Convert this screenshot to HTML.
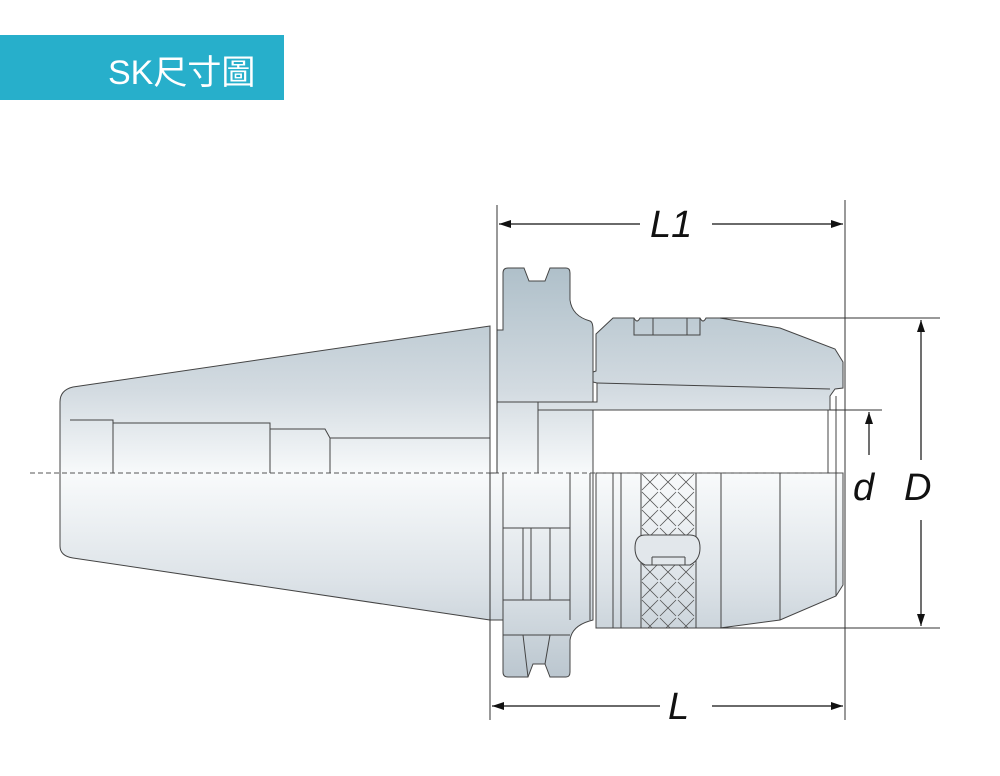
<!DOCTYPE html>
<html><head><meta charset="utf-8"><style>
body{margin:0;background:#fff;width:1000px;height:776px;overflow:hidden}
</style></head><body>
<svg width="1000" height="776" viewBox="0 0 1000 776" xmlns="http://www.w3.org/2000/svg" style="display:block">
<defs>
<linearGradient id="g" gradientUnits="userSpaceOnUse" x1="0" y1="265" x2="0" y2="685">
<stop offset="0" stop-color="#aebfc9"/>
<stop offset="0.3" stop-color="#d3dbe1"/>
<stop offset="0.5" stop-color="#f8fafb"/>
<stop offset="0.75" stop-color="#dde3e8"/>
<stop offset="1" stop-color="#b8c4cd"/>
</linearGradient>
<pattern id="kn" patternUnits="userSpaceOnUse" width="18" height="18" x="641" y="473">
<path d="M1 1 L9 9 L17 1 M1 17 L9 9 L17 17" stroke="#555" stroke-width="0.8" fill="none"/>
</pattern>
<marker id="a" markerWidth="12" markerHeight="8" refX="12" refY="4" orient="auto" markerUnits="userSpaceOnUse"><path d="M0 0 L12 4 L0 8 z" fill="#111"/></marker>
</defs>
<rect x="0" y="35" width="284" height="65" fill="#27afcb"/>
<text x="108" y="84" font-family="Liberation Sans, 'Noto Sans CJK TC', sans-serif" font-size="34" fill="#fff">SK尺寸圖</text>

<g stroke="#444" stroke-width="1" fill="url(#g)">
<path d="M490 326 L73 387 Q60 390 60 402 L60 546 Q60 556 73 558 L490 620 Z"/>
<path d="M497 330 L503 330 L503 273 Q503 268 508 268 L524 268 L529 281 L545 281 L550 268 L566 268 Q570 268 570 273 L570 300 Q572 316 590 321 Q593 322 593 330 L593 620 Q572 625 570 640 L570 672 Q570 677 566 677 L550 677 L545 664 L533 664 L528 677 L508 677 Q503 677 503 672 L503 620 L490 620 L490 473 L497 473 Z"/>
<path d="M596 334 L613 318 L634 318 Q637 324 640 318 L700 318 Q703 324 706 318 L720 318 L780 328 L835 349 L843 362 L843 388 L835 389 L830 396 L830 410 L538 410 L538 402 L597 402 L597 383 L593 382 L593 372 L596 371 Z"/>
<path d="M596 473 L843 473 L843 585 L836 596 L780 620 L720 628 L596 628 L596 473 Z"/>
</g>
<g stroke="#444" stroke-width="1" fill="none">
<path d="M597 383 L830 389"/>
<path d="M634 318 L634 335 L700 335 L700 318 M653 318 L653 335 M687 318 L687 335"/>
<path d="M497 402 L538 402 L538 473 M497 330 L497 473"/>
<path d="M70 420 L113 420 L113 473 M113 423 L270 423 L270 473 M270 429 L325 429 L330 438 L330 473 M330 438 L490 438"/>
<path d="M590 473 L590 620 M613 473 L613 628 M621 473 L621 628 M721 473 L721 628 M780 473 L780 620 M836 473 L836 596"/>
<path d="M503 473 L503 620 M570 473 L570 620 M503 528 L570 528 M503 600 L570 600 M523 528 L523 600 M531 528 L531 600 M550 528 L550 600 M503 635 L570 635 M523 635 L528 677 M550 635 L545 664"/>
<path d="M828 410 L828 473 M836 396 L836 473"/>
</g>
<rect x="641" y="473" width="55" height="155" fill="url(#kn)" stroke="#444"/>
<path d="M645 535 L690 535 Q700 535 700 548 Q700 560 690 565 L645 565 Q635 560 635 548 Q635 535 645 535 Z" fill="#e2e7eb" stroke="#444"/>
<path d="M652 557 L652 565 M685 557 L685 565 M652 557 L685 557" stroke="#444" fill="none"/>

<line x1="30" y1="473" x2="845" y2="473" stroke="#555" stroke-dasharray="5,3"/>

<g stroke="#333" stroke-width="1" fill="none">
<path d="M497 205 L497 473 M490 473 L490 720 M845 200 L845 720"/>
<path d="M720 318 L940 318 M720 628 L940 628 M830 410 L882 410"/>
</g>
<g stroke="#111" stroke-width="1.2">
<line x1="640" y1="224" x2="499" y2="224" marker-end="url(#a)"/>
<line x1="712" y1="224" x2="843" y2="224" marker-end="url(#a)"/>
<line x1="660" y1="706" x2="492" y2="706" marker-end="url(#a)"/>
<line x1="712" y1="706" x2="843" y2="706" marker-end="url(#a)"/>
<line x1="921" y1="460" x2="921" y2="320" marker-end="url(#a)"/>
<line x1="921" y1="520" x2="921" y2="626" marker-end="url(#a)"/>
<line x1="869" y1="455" x2="869" y2="412" marker-end="url(#a)"/>
</g>
<g font-family="Liberation Sans, sans-serif" font-style="italic" font-size="38" fill="#111">
<text x="650" y="237">L1</text>
<text x="668" y="719">L</text>
<text x="904" y="500">D</text>
<text x="853" y="500">d</text>
</g>
</svg>
</body></html>
